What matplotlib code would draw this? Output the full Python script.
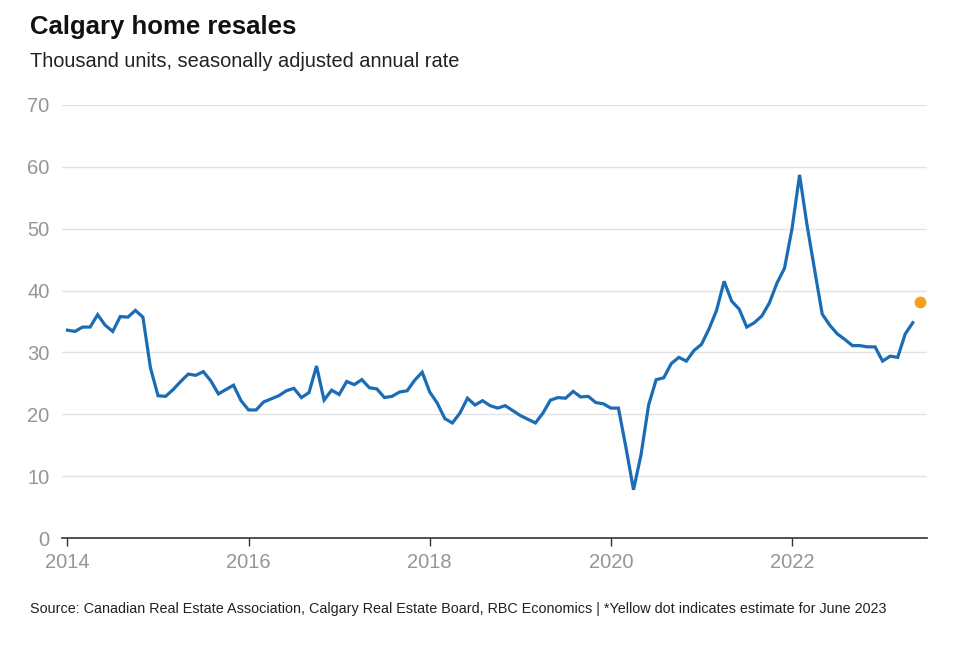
import numpy as np
import matplotlib.pyplot as plt

# monthly resales, thousand units SAAR, Jan 2014 - May 2023
resales = [
    33.6, 33.4, 34.1, 34.1, 36.1, 34.4, 33.4, 35.8, 35.7, 36.8, 35.7, 27.5,  # 2014
    23.0, 22.9, 24.0, 25.3, 26.5, 26.3, 26.9, 25.4, 23.3, 24.0, 24.7, 22.2,  # 2015
    20.7, 20.7, 22.0, 22.5, 23.0, 23.8, 24.2, 22.7, 23.5, 27.8, 22.3, 23.9,  # 2016
    23.2, 25.3, 24.8, 25.6, 24.3, 24.1, 22.7, 22.9, 23.6, 23.8, 25.5, 26.8,  # 2017
    23.6, 21.8, 19.3, 18.6, 20.2, 22.6, 21.5, 22.2, 21.4, 21.0, 21.4, 20.6,  # 2018
    19.8, 19.2, 18.6, 20.2, 22.3, 22.7, 22.6, 23.7, 22.8, 22.9, 21.9, 21.7,  # 2019
    21.0, 21.0, 14.6, 7.8, 13.5, 21.5, 25.6, 25.9, 28.2, 29.2, 28.6, 30.3,   # 2020
    31.3, 33.8, 36.8, 41.5, 38.3, 37.0, 34.1, 34.8, 35.9, 38.0, 41.2, 43.6,  # 2021
    50.0, 58.7, 50.5, 43.3, 36.2, 34.4, 33.0, 32.1, 31.1, 31.1, 30.9, 30.9,  # 2022
    28.6, 29.4, 29.2, 33.0, 34.8,                                            # 2023
]
estimate_x = 2023 + 5 / 12   # June 2023
estimate_y = 38.2

years = [2014, 2016, 2018, 2020, 2022]
yticks = [0, 10, 20, 30, 40, 50, 60, 70]

x = 2014 + np.arange(len(resales)) / 12

plt.rcParams['font.family'] = ['Liberation Sans', 'DejaVu Sans']

fig = plt.figure(figsize=(9.6, 6.55), dpi=100)
ax = fig.add_axes([0.0646, 0.1786, 0.9010, 0.6611])

ax.plot(x, resales, color='#1b6cb5', lw=2.3, solid_joinstyle='miter', zorder=3)
ax.plot(estimate_x, estimate_y, 'o', color='#f7a11a', ms=8.5, mec='none', zorder=4)

ax.set_xlim(2013.94, 2023.49)
ax.set_ylim(0, 70)
ax.set_yticks(yticks)
ax.set_xticks(years)
ax.set_xticklabels([str(y) for y in years])

ax.grid(axis='y', color='#e2e2e2', lw=1)
ax.set_axisbelow(True)
for s in ['top', 'right', 'left']:
    ax.spines[s].set_visible(False)
ax.spines['bottom'].set_color('#333333')
ax.spines['bottom'].set_linewidth(1.2)

ax.tick_params(axis='y', length=0, pad=9, labelsize=14.5, labelcolor='#959595')
ax.tick_params(axis='x', length=6, width=1, color='#333333', pad=5,
               labelsize=14.5, labelcolor='#959595')
for lab in ax.get_yticklabels():
    lab.set_horizontalalignment('right')

fig.text(30 / 960, 1 - 34 / 655, 'Calgary home resales', fontsize=18.5,
         fontweight='bold', color='#111111', va='baseline')
fig.text(30 / 960, 1 - 67 / 655, 'Thousand units, seasonally adjusted annual rate',
         fontsize=14.4, color='#222222', va='baseline')
fig.text(30 / 960, 1 - 613 / 655,
         'Source: Canadian Real Estate Association, Calgary Real Estate Board, '
         'RBC Economics | *Yellow dot indicates estimate for June 2023',
         fontsize=10.35, color='#222222', va='baseline')

fig.savefig('out.png', dpi=100, facecolor='white')
